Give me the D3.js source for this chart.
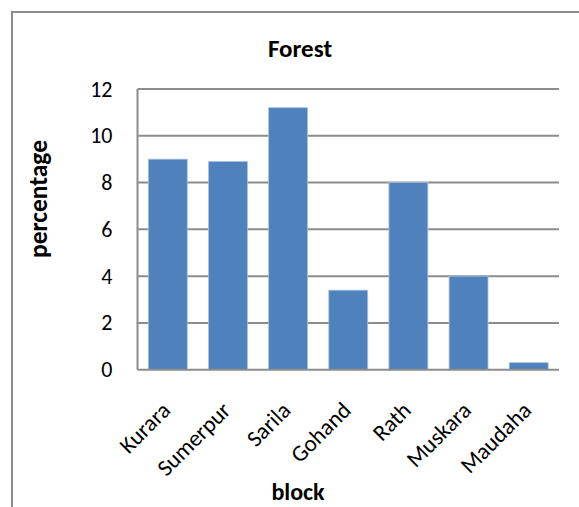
<!DOCTYPE html>
<html>
<head>
<meta charset="utf-8">
<script src="https://cdn.jsdelivr.net/npm/d3@7"></script>
<style>
  html, body { margin: 0; padding: 0; background: #fff; }
  svg { display: block; }
  text { font-family: Carlito, Calibri, Lato, sans-serif; fill: #000; }
</style>
</head>
<body>
<script>
// Forest cover by block (percentage)
const blocks = ["Kurara", "Sumerpur", "Sarila", "Gohand", "Rath", "Muskara", "Maudaha"];
const forestPct = [9.0, 8.9, 11.2, 3.4, 8.0, 4.0, 0.3];
const yTicks = [0, 2, 4, 6, 8, 10, 12];

const W = 579, H = 507;
const plot = { left: 137.5, right: 559, top: 89, bottom: 369.7 };

const svg = d3.select("body").append("svg")
  .attr("width", W).attr("height", H);

// chart frame
svg.append("rect")
  .attr("x", 12).attr("y", 12)
  .attr("width", 700).attr("height", 700)
  .attr("fill", "none")
  .attr("stroke", "#8c8c8c")
  .attr("stroke-width", 2);

const x = d3.scaleBand()
  .domain(blocks)
  .range([plot.left, plot.right])
  .paddingInner(0.353)
  .paddingOuter(0.18);

const y = d3.scaleLinear()
  .domain([0, 12])
  .range([plot.bottom, plot.top]);

// horizontal gridlines
svg.append("g")
  .selectAll("line")
  .data(yTicks.filter(d => d > 0))
  .join("line")
  .attr("x1", plot.left).attr("x2", plot.right)
  .attr("y1", d => y(d)).attr("y2", d => y(d))
  .attr("stroke", "#8c8c8c")
  .attr("stroke-width", 2);

// bars
svg.append("g")
  .selectAll("rect")
  .data(blocks.map((b, i) => ({ b, v: forestPct[i] })))
  .join("rect")
  .attr("x", d => x(d.b))
  .attr("y", d => y(d.v))
  .attr("width", x.bandwidth())
  .attr("height", d => y(0) - y(d.v))
  .attr("fill", "#4f81bd")
  .attr("stroke", "#a9c1df")
  .attr("stroke-width", 0.8);

// axis lines
svg.append("line")
  .attr("x1", plot.left).attr("x2", plot.left)
  .attr("y1", plot.top).attr("y2", plot.bottom)
  .attr("stroke", "#8c8c8c").attr("stroke-width", 2);
svg.append("line")
  .attr("x1", plot.left).attr("x2", plot.right)
  .attr("y1", plot.bottom).attr("y2", plot.bottom)
  .attr("stroke", "#8c8c8c").attr("stroke-width", 2);

// y tick labels
svg.append("g")
  .selectAll("text")
  .data(yTicks)
  .join("text")
  .attr("x", plot.left - 25)
  .attr("y", d => y(d))
  .attr("text-anchor", "end")
  .attr("dominant-baseline", "central")
  .attr("font-size", 22)
  .text(d => d);

// x tick labels, rotated
svg.append("g")
  .selectAll("text")
  .data(blocks)
  .join("text")
  .attr("transform", d => `translate(${x(d) + x.bandwidth() / 2 + 4},${plot.bottom + 42}) rotate(-45)`)
  .attr("text-anchor", "end")
  .attr("font-size", 23)
  .text(d => d);

// title
svg.append("text")
  .attr("x", 300).attr("y", 56.5)
  .attr("text-anchor", "middle")
  .attr("font-size", 25)
  .attr("font-weight", "bold")
  .text("Forest");

// axis titles
svg.append("text")
  .attr("transform", "translate(47,199) rotate(-90)")
  .attr("text-anchor", "middle")
  .attr("font-size", 25.5)
  .attr("font-weight", "bold")
  .text("percentage");

svg.append("text")
  .attr("x", 298).attr("y", 500)
  .attr("text-anchor", "middle")
  .attr("font-size", 24)
  .attr("font-weight", "bold")
  .text("block");
</script>
</body>
</html>
